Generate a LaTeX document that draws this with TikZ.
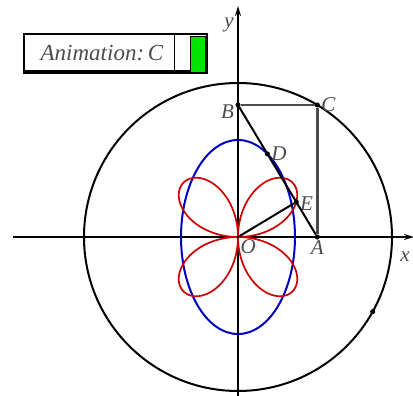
\documentclass[tikz,border=0pt]{standalone}
\usepackage{fontspec}
\setmainfont{Liberation Serif}
\usetikzlibrary{arrows.meta,positioning,calc}

\begin{document}
\begin{tikzpicture}[x=1pt,y=1pt,>={Stealth[length=10pt,width=6pt]},
  pt/.style={circle,fill,inner sep=1.8pt},
  lbl/.style={font=\fontsize{21}{21}\selectfont\itshape,text=black!70,inner sep=1pt},
  axis/.style={->,line width=1.8pt},
  side/.style={line width=2.4pt,black!70},
  seg/.style={line width=2pt}]
  \def\R{154}\def\ang{59}\def\s{0.37}
  \useasboundingbox (-238,-159) rectangle (175,237);

  % animation control
  \draw[line width=1.6pt] (-214,164) rectangle (-31,203);
  \draw[line width=3pt] (-214,165) -- (-31,165);
  \draw[line width=1pt] (-63,164) -- (-63,203);
  \filldraw[fill=green!90!black,line width=1pt] (-47,164) rectangle (-32,200);
  \node[font=\fontsize{23}{23}\selectfont\itshape,text=black!70] (anim) at (-136,184) {Animation:\,C};

  \coordinate (O) at (0,0);
  \coordinate (xl) at (-225,0);
  \coordinate (xr) at (176,0);
  \coordinate (yb) at (0,-160);
  \coordinate (yt) at (0,231);

  \draw[line width=2pt] (O) circle[radius=\R];
  \draw[axis] (xl) -- (xr);
  \draw[axis] (yb) -- (yt);
  \node[lbl] (xlab) at (167,-20) {x};
  \node[lbl] (ylab) at (-9,212) {y};

  \draw[line width=2pt,blue!75!black] (O) ellipse[x radius={\s*\R},y radius={(1-\s)*\R}];
  \draw[line width=1.7pt,red!80!black] plot[domain=0:360,samples=240,smooth]
    ({\R/2*sin(2*\x)*cos(\x)},{\R/2*sin(2*\x)*sin(\x)});

  \node[pt,label={[lbl]below:A}] (A) at ({\R*cos(\ang)},0) {};
  \node[pt,label={[lbl,yshift=-7pt]left:B}] (B) at (0,{\R*sin(\ang)}) {};
  \node[pt,label={[lbl]right:C}] (C) at ({\R*cos(\ang)},{\R*sin(\ang)}) {};
  \node[pt,label={[lbl]right:D}] (D) at ({\s*\R*cos(\ang)},{(1-\s)*\R*sin(\ang)}) {};
  \node[pt,label={[lbl,yshift=-2pt]right:E}] (E)
    at ({\R*cos(\ang)*sin(\ang)^2},{\R*sin(\ang)*cos(\ang)^2}) {};
  \node[pt,inner sep=1.2pt,label={[lbl]below right:O}] (o) at (O) {};
  \node[pt] (P) at (-29:\R) {};

  \draw[side] (B) -- (C) -- (A);
  \draw[seg] (B) -- (A);
  \draw[seg] (o) -- (E);
\end{tikzpicture}
\end{document}
